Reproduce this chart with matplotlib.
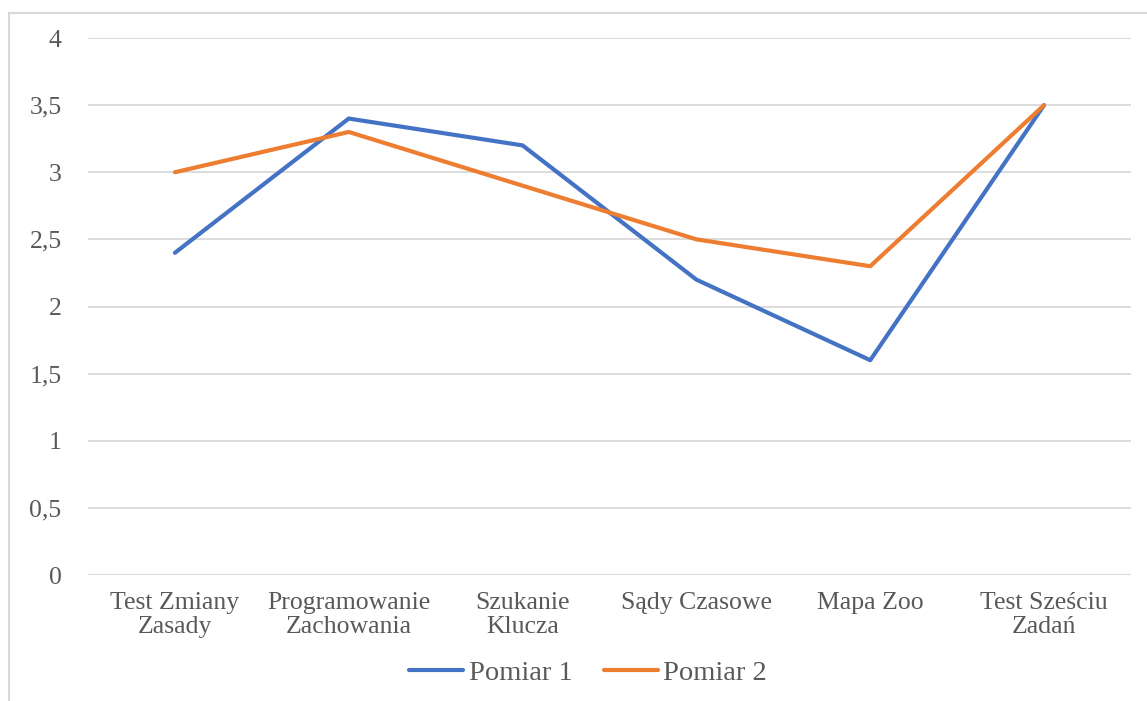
import matplotlib.pyplot as plt
from matplotlib.lines import Line2D
from matplotlib.ticker import FuncFormatter

plt.rcParams['font.family'] = ['Liberation Serif', 'DejaVu Serif']

# results of the two measurements for each test
categories = ['Test Zmiany\nZasady', 'Programowanie\nZachowania', 'Szukanie\nKlucza',
              'Sądy Czasowe', 'Mapa Zoo', 'Test Sześciu\nZadań']
pomiar_1 = [2.4, 3.4, 3.2, 2.2, 1.6, 3.5]
pomiar_2 = [3.0, 3.3, 2.9, 2.5, 2.3, 3.5]
series_names = ['Pomiar 1', 'Pomiar 2']
y_ticks = [0, 0.5, 1, 1.5, 2, 2.5, 3, 3.5, 4]

BLUE = '#4472C4'
ORANGE = '#ED7D31'
GRID = '#D9D9D9'
TEXT = '#595959'
FS = 18.5

fig = plt.figure(figsize=(11.47, 7.01), dpi=100)
ax = fig.add_axes([88 / 1147, 1 - 575 / 701, (1131 - 88) / 1147, (575 - 38) / 701])

x = range(len(categories))
ax.plot(x, pomiar_1, color=BLUE, linewidth=3, solid_capstyle='round', zorder=3)
ax.plot(x, pomiar_2, color=ORANGE, linewidth=3, solid_capstyle='round', zorder=3)

ax.set_xlim(-0.5, len(categories) - 0.5)
ax.set_ylim(0, 4)
ax.set_yticks(y_ticks)
ax.yaxis.set_major_formatter(FuncFormatter(lambda v, _: f'{v:g}'.replace('.', ',')))
ax.set_xticks(list(x))
ax.set_xticklabels(categories, linespacing=1.15)

ax.grid(axis='y', color=GRID, linewidth=1.3)
ax.set_axisbelow(True)
for side in ['top', 'right', 'left', 'bottom']:
    ax.spines[side].set_visible(False)
ax.tick_params(axis='both', length=0, labelsize=FS, labelcolor=TEXT)
ax.tick_params(axis='y', pad=19)
ax.tick_params(axis='x', pad=12)

# legend under the plot
handles = [Line2D([], [], color=BLUE, linewidth=3, solid_capstyle='round'),
           Line2D([], [], color=ORANGE, linewidth=3, solid_capstyle='round')]
fig.legend(handles, series_names, loc='center', bbox_to_anchor=(588 / 1147, 1 - 673 / 701),
           ncol=2, frameon=False, fontsize=20.5, labelcolor=TEXT, handlelength=1.9,
           handletextpad=0.2, columnspacing=1.1)

# chart frame
fig.add_artist(Line2D([9 / 1147, 9 / 1147], [0, 1 - 13 / 701], color=GRID, linewidth=1.5,
                      transform=fig.transFigure))
fig.add_artist(Line2D([9 / 1147, 1], [1 - 13 / 701, 1 - 13 / 701], color=GRID, linewidth=1.5,
                      transform=fig.transFigure))

fig.savefig('out.png', dpi=100)
